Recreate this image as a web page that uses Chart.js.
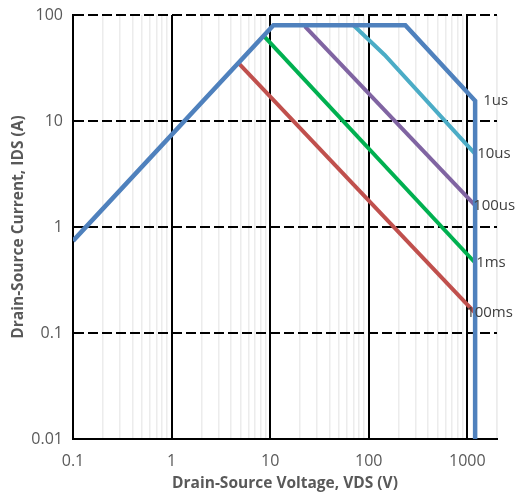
<!DOCTYPE html>
<html><head><meta charset="utf-8">
<script src="https://cdn.jsdelivr.net/npm/chart.js@4.4.1/dist/chart.umd.min.js"></script>
<style>html,body{margin:0;padding:0;background:#fff}canvas{display:block}</style>
</head><body>
<canvas id="soa" width="523" height="498"></canvas>
<script>
// Safe operating area: drain current vs drain-source voltage for each pulse width
const seriesNames = ['1us', '10us', '100us', '1ms', '100ms'];
const vds1us = [0.1, 10.8, 235, 1200, 1200];
const ids1us = [0.74, 80, 80, 15.5, 0.01];
const vds10us = [70, 145, 1200];
const ids10us = [80, 42, 4.9];
const vds100us = [22.5, 1200];
const ids100us = [78, 1.6];
const vds1ms = [8.7, 1200];
const ids1ms = [63, 0.46];
const vds100ms = [4.8, 1200];
const ids100ms = [35, 0.155];

const xDecades = [0.1, 1, 10, 100, 1000];
const xTickLabels = ['0.1', '1', '10', '100', '1000'];
const yDecades = [0.01, 0.1, 1, 10, 100];
const yTickLabels = ['0.01', '0.1', '1', '10', '100'];

const seriesColors = ['#4F81BD', '#4BACC6', '#8064A2', '#00B050', '#C0504D'];
const seriesWidths = [4.5, 4, 4, 4, 4];
// which point each curve name sits beside, and its horizontal nudge
const labelPointIndex = [3, 2, 1, 1, 1];
const labelNudge = [8, 2, -2, 1, -9];

const vdsSets = [vds1us, vds10us, vds100us, vds1ms, vds100ms];
const idsSets = [ids1us, ids10us, ids100us, ids1ms, ids100ms];

const datasets = seriesNames.map((name, i) => ({
  label: name,
  data: vdsSets[i].map((v, k) => ({ x: v, y: idsSets[i][k] })),
  borderColor: seriesColors[i],
  backgroundColor: seriesColors[i],
  borderWidth: seriesWidths[i],
  pointRadius: 0,
  fill: false,
  tension: 0,
  borderJoinStyle: 'miter'
}));

// minor gridline positions: 1..9 times each decade, up to 2000 V
const xGridValues = [];
xDecades.forEach(d => { for (let m = 1; m <= 9; m++) { const v = +(d * m).toPrecision(3); if (v <= 2000) xGridValues.push(v); } });
xGridValues.push(2000);

const isDecade = v => xDecades.some(d => Math.abs(d - v) / d < 1e-6);
const FONT = '"Open Sans", "DejaVu Sans", sans-serif';

const curveNames = {
  id: 'curveNames',
  afterDatasetsDraw(chart) {
    const { ctx, scales: { x, y } } = chart;
    ctx.save();
    ctx.font = '15px ' + FONT;
    ctx.fillStyle = '#404040';
    ctx.textAlign = 'left';
    ctx.textBaseline = 'middle';
    seriesNames.forEach((name, i) => {
      const k = labelPointIndex[i];
      const px = x.getPixelForValue(vdsSets[i][k]) + labelNudge[i];
      const py = y.getPixelForValue(idsSets[i][k]);
      ctx.fillText(name, px, py);
    });
    ctx.restore();
  }
};

new Chart(document.getElementById('soa'), {
  type: 'line',
  data: { datasets },
  plugins: [curveNames],
  options: {
    responsive: false,
    animation: false,
    layout: { padding: { left: 0, right: 26, top: 15, bottom: 0 } },
    plugins: { legend: { display: false }, tooltip: { enabled: false } },
    scales: {
      x: {
        type: 'logarithmic',
        min: 0.1, max: 2000,
        afterBuildTicks(scale) { scale.ticks = xGridValues.map(v => ({ value: v })); },
        afterFit(scale) { scale.height = 59; },
        ticks: {
          autoSkip: false, maxRotation: 0, padding: 13,
          color: '#595959', font: { family: FONT, size: 16 },
          callback(value) { const j = xDecades.findIndex(d => Math.abs(d - value) / d < 1e-6); return j >= 0 ? xTickLabels[j] : ''; }
        },
        grid: {
          drawTicks: false,
          color: c => (c.tick && isDecade(c.tick.value)) ? '#000000' : '#ececec',
          lineWidth: c => (c.tick && isDecade(c.tick.value)) ? 2 : 1.5
        },
        border: { display: true, color: '#000000', width: 2 },
        title: {
          display: true, text: 'Drain-Source Voltage, VDS (V)', color: '#595959',
          font: { family: FONT, size: 15.5, weight: 'bold' }, padding: { top: 0, bottom: 5 }
        }
      },
      y: {
        type: 'logarithmic',
        min: 0.01, max: 100,
        afterBuildTicks(scale) { scale.ticks = yDecades.map(v => ({ value: v })); },
        afterFit(scale) { scale.width = 73; scale.paddingTop = 0; scale.paddingBottom = 0; },
        ticks: {
          autoSkip: false, padding: 10,
          color: '#595959', font: { family: FONT, size: 16 },
          callback(value) { const j = yDecades.findIndex(d => Math.abs(d - value) / d < 1e-6); return j >= 0 ? yTickLabels[j] : ''; }
        },
        grid: { drawTicks: false, color: '#000000', lineWidth: 2 },
        border: { display: true, color: '#000000', width: 2, dash: [10, 4] },
        title: {
          display: true, text: 'Drain-Source Current, IDS (A)', color: '#595959',
          font: { family: FONT, size: 15.5, weight: 'bold' }, padding: { top: 9, bottom: 0 }
        }
      }
    }
  }
});
</script>
</body></html>
